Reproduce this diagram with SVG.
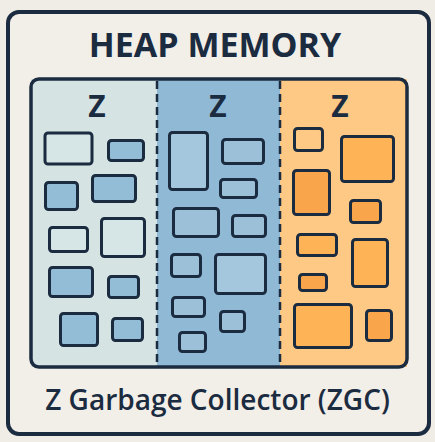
<svg xmlns="http://www.w3.org/2000/svg" width="435" height="442" viewBox="0 0 435 442">
<style>
.t{font-family:"Open Sans","Noto Sans","Liberation Sans",sans-serif;fill:#1b2b40;text-anchor:middle}
.b{stroke:#1b2b40;stroke-width:3;}
.lt{fill:#d6e5e5}.bl{fill:#93bcd6}.ml{fill:#a5c7dd}.mb{fill:#9bc0d8}
.ol{fill:#fdc984}.or{fill:#feb456}.od{fill:#f9a54b}
.div{stroke:#1b2b40;stroke-width:2.5;stroke-dasharray:8 5}
</style>
<rect width="435" height="442" fill="#f0ece6"/>
<g id="frame">
<rect x="8" y="12" width="421" height="422" rx="11" fill="#f2eee8" stroke="#1b2b40" stroke-width="4"/>
<text class="t" x="215" y="57" font-size="34" font-weight="700">HEAP MEMORY</text>
</g>
<g id="heap">
<rect x="31" y="79" width="126" height="288" fill="#d5e4e3"/>
<rect x="157" y="79" width="123" height="288" fill="#8fb9d4"/>
<rect x="280" y="79" width="127" height="288" fill="#fdc985"/>
</g>
<g id="connectors">
<line class="div" x1="157" y1="81" x2="157" y2="366"/>
<line class="div" x1="280" y1="81" x2="280" y2="366"/>
</g>
<g id="heap-border">
<rect x="31" y="79" width="376" height="288" rx="8" fill="none" stroke="#1b2b40" stroke-width="3.5"/>
</g>
<g id="region1">
<text class="t" x="97" y="117" font-size="30" font-weight="700">Z</text>
<rect class="b lt" x="45" y="133" width="47" height="31" rx="3"/>
<rect class="b bl" x="108.5" y="140.5" width="35" height="20" rx="3"/>
<rect class="b bl" x="45.5" y="182.5" width="32" height="27" rx="3"/>
<rect class="b bl" x="92.5" y="175.5" width="43" height="26" rx="3"/>
<rect class="b lt" x="49.5" y="227.5" width="38" height="24" rx="3"/>
<rect class="b lt" x="101.5" y="218.5" width="43" height="38" rx="3"/>
<rect class="b bl" x="49.5" y="267.5" width="43" height="29" rx="3"/>
<rect class="b bl" x="108.5" y="276.5" width="30" height="21" rx="3"/>
<rect class="b bl" x="60.5" y="313.5" width="37" height="32" rx="3"/>
<rect class="b bl" x="112.5" y="318.5" width="30" height="22" rx="3"/>
</g>
<g id="region2">
<text class="t" x="218" y="117" font-size="30" font-weight="700">Z</text>
<rect class="b ml" x="169.5" y="132.5" width="38" height="57" rx="3"/>
<rect class="b mb" x="222.5" y="139.5" width="41" height="24" rx="3"/>
<rect class="b mb" x="220.5" y="179.5" width="36" height="18" rx="3"/>
<rect class="b mb" x="173.5" y="208.5" width="45" height="28" rx="3"/>
<rect class="b mb" x="232.5" y="215.5" width="33" height="21" rx="3"/>
<rect class="b mb" x="171.5" y="254.5" width="29" height="22" rx="3"/>
<rect class="b ml" x="215.5" y="254.5" width="50" height="39" rx="3"/>
<rect class="b mb" x="172.5" y="297.5" width="32" height="19" rx="3"/>
<rect class="b mb" x="220.5" y="311.5" width="24" height="20" rx="3"/>
<rect class="b mb" x="179.5" y="332.5" width="26" height="19" rx="3"/>
</g>
<g id="region3">
<text class="t" x="340" y="117" font-size="30" font-weight="700">Z</text>
<rect class="b ol" x="294.5" y="128.5" width="28" height="22" rx="3"/>
<rect class="b or" x="341.5" y="136.5" width="52" height="45" rx="3"/>
<rect class="b od" x="293.5" y="170.5" width="36" height="44" rx="3"/>
<rect class="b od" x="350.5" y="200.5" width="30" height="22" rx="3"/>
<rect class="b or" x="297.5" y="234.5" width="39" height="21" rx="3"/>
<rect class="b or" x="352.5" y="239.5" width="35" height="47" rx="3"/>
<rect class="b od" x="299.5" y="274.5" width="27" height="16" rx="3"/>
<rect class="b or" x="294.5" y="304.5" width="57" height="43" rx="3"/>
<rect class="b od" x="366.5" y="310.5" width="25" height="30" rx="3"/>
</g>
<g id="caption">
<text class="t" x="217.5" y="410" font-size="28" font-weight="600">Z Garbage Collector (ZGC)</text>
</g>
</svg>
